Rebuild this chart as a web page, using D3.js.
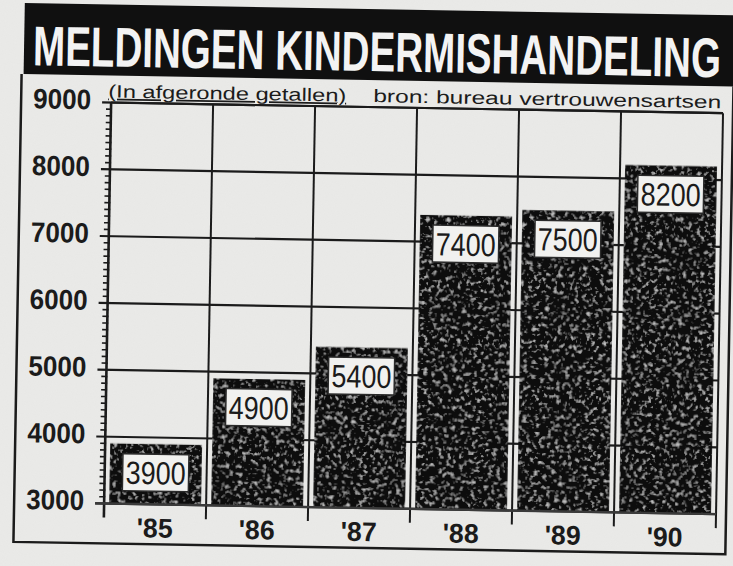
<!DOCTYPE html>
<html>
<head>
<meta charset="utf-8">
<script src="https://cdn.jsdelivr.net/npm/d3@7"></script>
<style>
  html, body { margin: 0; padding: 0; background: #eaeae8; }
  svg { display: block; }
</style>
</head>
<body>
<svg id="chart" width="733" height="566"></svg>
<script>
const title = "MELDINGEN KINDERMISHANDELING";
const subtitleLeft = "(In afgeronde getallen)";
const subtitleRight = "bron: bureau vertrouwensartsen";
const years = ["'85", "'86", "'87", "'88", "'89", "'90"];
const meldingen = [3900, 4900, 5400, 7400, 7500, 8200];
const yTickValues = [3000, 4000, 5000, 6000, 7000, 8000, 9000];

// no narrow face is installed, so glyphs get squeezed with textLength
const sans = "'Liberation Sans', Arial, Helvetica, sans-serif";
const plot = { left: 108, right: 720, top: 107, bottom: 508 };
const ink = "#1b1b1b";

const svg = d3.select("#chart");
const defs = svg.append("defs");

// speckled bar fill, like the coarse newspaper raster
const speckle = defs.append("filter")
  .attr("id", "speckle")
  .attr("x", 0).attr("y", 0).attr("width", 1).attr("height", 1);
speckle.append("feTurbulence")
  .attr("type", "fractalNoise")
  .attr("baseFrequency", 0.24)
  .attr("numOctaves", 2)
  .attr("seed", 7)
  .attr("result", "noise");
speckle.append("feColorMatrix")
  .attr("in", "noise")
  .attr("type", "matrix")
  .attr("values", "0 0 0 0 0.5  0 0 0 0 0.5  0 0 0 0 0.5  4 0 0 0 -2.25")
  .attr("result", "spots");
speckle.append("feComposite")
  .attr("in", "spots").attr("in2", "SourceGraphic")
  .attr("operator", "in").attr("result", "clipped");
const merge = speckle.append("feMerge");
merge.append("feMergeNode").attr("in", "SourceGraphic");
merge.append("feMergeNode").attr("in", "clipped");

// faint paper grain
const grain = defs.append("filter").attr("id", "grain")
  .attr("x", 0).attr("y", 0).attr("width", 1).attr("height", 1);
grain.append("feTurbulence")
  .attr("type", "fractalNoise").attr("baseFrequency", 0.9)
  .attr("numOctaves", 1).attr("seed", 3);
grain.append("feColorMatrix")
  .attr("type", "matrix")
  .attr("values", "0 0 0 0 0.5  0 0 0 0 0.5  0 0 0 0 0.5  0 0 0 0.3 0");

svg.append("rect")
  .attr("width", 733).attr("height", 566)
  .attr("fill", "#eaeae8");
svg.append("rect")
  .attr("width", 733).attr("height", 566)
  .attr("filter", "url(#grain)")
  .attr("opacity", 0.15);

// the scan is a little skewed, so the whole graphic is turned by a degree
const g = svg.append("g").attr("transform", "rotate(1, 366, 283)");

const x = d3.scaleBand()
  .domain(years)
  .range([plot.left, plot.right])
  .paddingInner(0.1)
  .paddingOuter(0.05);

const y = d3.scaleLinear()
  .domain([3000, 9000])
  .range([plot.bottom, plot.top]);

// title band
g.append("rect")
  .attr("x", 20).attr("y", 9)
  .attr("width", 740).attr("height", 71)
  .attr("fill", "#101010");

g.append("text")
  .attr("x", 29).attr("y", 71)
  .attr("textLength", 688)
  .attr("lengthAdjust", "spacingAndGlyphs")
  .attr("fill", "#f3f3f3")
  .style("font-family", sans)
  .style("font-weight", "bold")
  .style("font-size", "56px")
  .text(title);

// outer frame
g.append("path")
  .attr("d", "M18,80 V548 H730 V80")
  .attr("fill", "none")
  .attr("stroke", ink)
  .attr("stroke-width", 2.5);

// subtitle line
g.append("text")
  .attr("x", 105).attr("y", 102)
  .attr("textLength", 238)
  .attr("lengthAdjust", "spacingAndGlyphs")
  .attr("fill", ink)
  .style("font-family", sans)
  .style("font-size", "18px")
  .style("text-decoration", "underline")
  .text(subtitleLeft);

g.append("text")
  .attr("x", 370).attr("y", 102)
  .attr("textLength", 348)
  .attr("lengthAdjust", "spacingAndGlyphs")
  .attr("fill", ink)
  .style("font-family", sans)
  .style("font-size", "18px")
  .text(subtitleRight);

// horizontal grid (with the long ticks left of the axis)
g.append("g")
  .selectAll("line")
  .data(yTickValues)
  .join("line")
  .attr("x1", plot.left - 9)
  .attr("x2", plot.right)
  .attr("y1", d => y(d))
  .attr("y2", d => y(d))
  .attr("stroke", ink)
  .attr("stroke-width", 2.2);

// minor ticks every hundred
g.append("g")
  .selectAll("line")
  .data(y.ticks(60).filter(d => d % 1000 !== 0))
  .join("line")
  .attr("x1", plot.left - 5)
  .attr("x2", plot.left + 1)
  .attr("y1", d => y(d))
  .attr("y2", d => y(d))
  .attr("stroke", ink)
  .attr("stroke-width", 1.6);

// vertical grid on the category boundaries, running below the axis as ticks
const step = x.step();
const bounds = d3.range(years.length + 1).map(i => plot.left + i * step);
g.append("g")
  .selectAll("line")
  .data(bounds)
  .join("line")
  .attr("x1", d => d)
  .attr("x2", d => d)
  .attr("y1", plot.top)
  .attr("y2", plot.bottom + 14)
  .attr("stroke", ink)
  .attr("stroke-width", (d, i) => i === 0 ? 2.6 : 2);

// bars
g.append("g")
  .selectAll("rect")
  .data(meldingen)
  .join("rect")
  .attr("x", (d, i) => x(years[i]))
  .attr("y", d => y(d))
  .attr("width", x.bandwidth())
  .attr("height", d => y(3000) - y(d))
  .attr("fill", "#101010")
  .attr("filter", "url(#speckle)");

// value boxes
const boxW = 66, boxH = 37;
const labels = g.append("g")
  .selectAll("g")
  .data(meldingen)
  .join("g")
  .attr("transform", (d, i) =>
    `translate(${x(years[i]) + x.bandwidth() / 2},${y(d) + 10})`);

labels.append("rect")
  .attr("x", -boxW / 2)
  .attr("width", boxW)
  .attr("height", boxH)
  .attr("fill", "#f1f1ef")
  .attr("stroke", "#2a2a2a")
  .attr("stroke-width", 1.5);

labels.append("text")
  .attr("x", -30)
  .attr("y", 30)
  .attr("textLength", 60)
  .attr("lengthAdjust", "spacingAndGlyphs")
  .attr("fill", ink)
  .style("font-family", sans)
  .style("font-size", "32px")
  .text(d => d);

// top and bottom lines of the plot
g.append("line")
  .attr("x1", plot.left).attr("x2", plot.right)
  .attr("y1", plot.top).attr("y2", plot.top)
  .attr("stroke", ink).attr("stroke-width", 2.2);

g.append("line")
  .attr("x1", plot.left - 9).attr("x2", plot.right)
  .attr("y1", plot.bottom).attr("y2", plot.bottom)
  .attr("stroke", "#3a3a3a").attr("stroke-width", 2.4);

// y labels
g.append("g")
  .selectAll("text")
  .data(yTickValues)
  .join("text")
  .attr("x", 30)
  .attr("y", d => y(d) + 7)
  .attr("textLength", 58)
  .attr("lengthAdjust", "spacingAndGlyphs")
  .attr("fill", ink)
  .style("font-family", sans)
  .style("font-weight", "bold")
  .style("font-size", "28px")
  .text(d => d);

// x labels
g.append("g")
  .selectAll("text")
  .data(years)
  .join("text")
  .attr("x", d => x(d) + x.bandwidth() / 2 - 18)
  .attr("y", 541)
  .attr("textLength", 36)
  .attr("lengthAdjust", "spacingAndGlyphs")
  .attr("fill", ink)
  .style("font-family", sans)
  .style("font-weight", "bold")
  .style("font-size", "27px")
  .text(d => d);
</script>
</body>
</html>
